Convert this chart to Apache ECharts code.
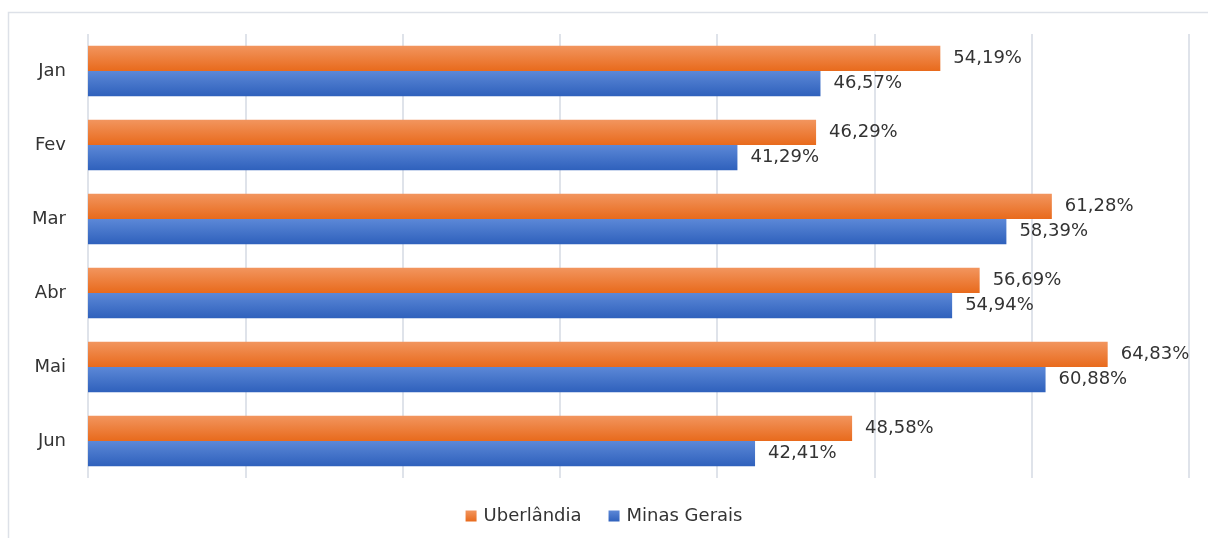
<!DOCTYPE html>
<html><head><meta charset="utf-8">
<script src="https://cdn.jsdelivr.net/npm/echarts@6/dist/echarts.min.js"></script>
<style>html,body{margin:0;padding:0;background:#fff}#c{width:1208px;height:538px}</style>
</head><body><div id="c"></div>
<script>
const categories = ['Jan', 'Fev', 'Mar', 'Abr', 'Mai', 'Jun'];
const uberlandia = [54.19, 46.29, 61.28, 56.69, 64.83, 48.58];
const minasGerais = [46.57, 41.29, 58.39, 54.94, 60.88, 42.41];
const seriesNames = ['Uberlândia', 'Minas Gerais'];

const chart = echarts.init(document.getElementById('c'));
const FONT = 'DejaVu Sans';
const grad = (a, b) => new echarts.graphic.LinearGradient(0, 0, 0, 1, [{offset: 0, color: a}, {offset: 1, color: b}]);
const fmt = p => p.value.toFixed(2).replace('.', ',') + '%';
const labelStyle = {show: true, position: 'right', distance: 13, formatter: fmt, color: '#333333', fontSize: 18, fontFamily: FONT};
chart.setOption({
  animation: false,
  graphic: [{type: 'rect', shape: {x: 8.5, y: 12.5, width: 1300, height: 600}, style: {fill: 'none', stroke: '#DDE1E8', lineWidth: 1.5}, silent: true}],
  grid: {left: 88, right: 19, top: 34, bottom: 60, containLabel: false},
  legend: {
    bottom: 8, left: 'center', itemWidth: 11, itemHeight: 11, itemGap: 27, icon: 'rect',
    textStyle: {color: '#333333', fontSize: 18, fontFamily: FONT, padding: [0, 0, 0, 2]},
    data: seriesNames
  },
  xAxis: {
    type: 'value', min: 0, max: 70, interval: 10,
    axisLabel: {show: false}, axisLine: {show: false}, axisTick: {show: false},
    splitLine: {show: true, lineStyle: {color: '#DFE3EA', width: 2}}
  },
  yAxis: {
    type: 'category', data: categories, inverse: true,
    axisLine: {show: false}, axisTick: {show: false},
    axisLabel: {color: '#333333', fontSize: 18, fontFamily: FONT, margin: 22}
  },
  series: [
    {name: seriesNames[0], type: 'bar', data: uberlandia, barGap: '0%', barCategoryGap: '32%',
     itemStyle: {color: grad('#F2955E', '#E86A1C')}, label: labelStyle},
    {name: seriesNames[1], type: 'bar', data: minasGerais, barGap: '0%', barCategoryGap: '32%',
     itemStyle: {color: grad('#5C88D7', '#2F61BC')}, label: labelStyle}
  ]
});
</script></body></html>
